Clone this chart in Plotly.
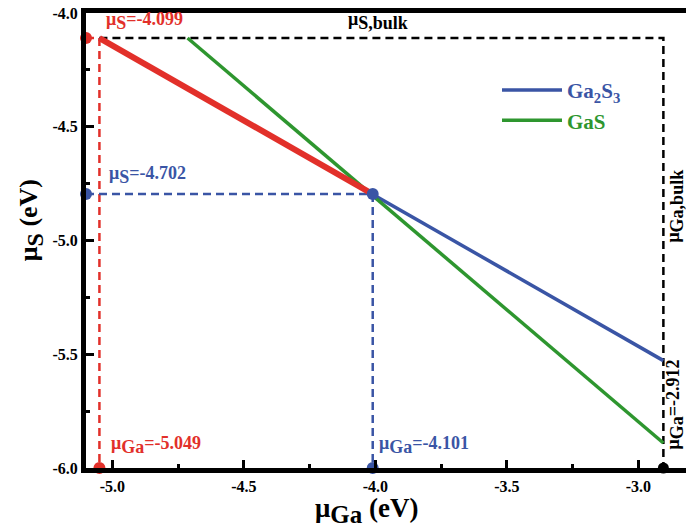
import plotly.graph_objects as go

# ---- data (axis coordinates) ----
ga2s3_x = [-5.049, -2.905]
ga2s3_y = [-4.11, -5.528]
gas_x = [-4.714, -2.905]
gas_y = [-4.11, -5.89]
stable_x = [-5.049, -4.01]
stable_y = [-4.11, -4.796]

x_left, x_right = -5.1, -2.819
y_bottom, y_top = -6.0, -4.0
x_ticks = [-5.0, -4.5, -4.0, -3.5, -3.0]
y_ticks = [-4.0, -4.5, -5.0, -5.5, -6.0]

RED = "#E2302A"
BLUE = "#3A55A5"
GREEN = "#2E962F"
FONT = "Liberation Serif"

fig = go.Figure()

def dashed(xs, ys, color):
    fig.add_trace(go.Scatter(x=xs, y=ys, mode="lines", showlegend=False,
                             line=dict(color=color, width=2.5, dash="8px,5px"),
                             hoverinfo="skip", cliponaxis=False))

# dashed guide lines
dashed([x_left, stable_x[0]], [stable_y[0], stable_y[0]], RED)
dashed([stable_x[0], stable_x[0]], [stable_y[0], y_bottom], RED)
dashed([stable_x[0], ga2s3_x[1], ga2s3_x[1]], [stable_y[0], stable_y[0], y_bottom], "black")
dashed([x_left, stable_x[1]], [stable_y[1], stable_y[1]], BLUE)
dashed([stable_x[1], stable_x[1]], [stable_y[1], y_bottom], BLUE)

# lines
fig.add_trace(go.Scatter(x=ga2s3_x, y=ga2s3_y, mode="lines",
                         name="<span style='color:%s'>Ga<sub>2</sub>S<sub>3</sub></span>" % BLUE,
                         line=dict(color=BLUE, width=3.5)))
fig.add_trace(go.Scatter(x=gas_x, y=gas_y, mode="lines",
                         name="<span style='color:%s'>GaS</span>" % GREEN,
                         line=dict(color=GREEN, width=3.5)))
fig.add_trace(go.Scatter(x=stable_x, y=stable_y, mode="lines", showlegend=False,
                         line=dict(color=RED, width=6)))

# dots
fig.add_trace(go.Scatter(x=[x_left, stable_x[0]], y=[stable_y[0], y_bottom], mode="markers",
                         showlegend=False, cliponaxis=False,
                         marker=dict(color=RED, size=12)))
fig.add_trace(go.Scatter(x=[x_left, stable_x[1], stable_x[1]], y=[stable_y[1], y_bottom, stable_y[1]],
                         mode="markers", showlegend=False, cliponaxis=False,
                         marker=dict(color=BLUE, size=12)))
fig.add_trace(go.Scatter(x=[ga2s3_x[1]], y=[y_bottom], mode="markers",
                         showlegend=False, cliponaxis=False,
                         marker=dict(color="black", size=11)))

def sub(s, px):
    return "<sub><span style='font-size:%dpx'>%s</span></sub>" % (px, s)

def ann(text, x, y, color, angle=0, xanchor="left"):
    fig.add_annotation(x=x, y=y, xref="x", yref="y", text=text, showarrow=False,
                       textangle=angle, xanchor=xanchor, yanchor="middle",
                       font=dict(family=FONT, size=18, color=color, weight="bold"))

ann("μ" + sub("S", 18) + "=-4.099", -5.032, -4.035, RED)
ann("μ" + sub("S,bulk", 18), -4.11, -4.035, "black")
ann("μ" + sub("S", 18) + "=-4.702", -5.022, -4.71, BLUE)
ann("μ" + sub("Ga", 18) + "=-5.049", -5.012, -5.9, RED)
ann("μ" + sub("Ga", 18) + "=-4.101", -3.995, -5.9, BLUE)
ann("μ" + sub("Ga,bulk", 18), -2.86, -4.85, "black", angle=-90, xanchor="center")
ann("μ" + sub("Ga", 18) + "=-2.912", -2.86, -5.72, "black", angle=-90, xanchor="center")

# axis titles as annotations (positioned like the reference)
fig.add_annotation(x=0.468, y=-0.094, xref="paper", yref="paper", showarrow=False,
                   text="μ" + sub("Ga", 25) + " (eV)", xanchor="center", yanchor="middle",
                   borderpad=0,
                   font=dict(family=FONT, size=27, color="black", weight="bold"))
fig.add_annotation(x=-0.093, y=0.545, xref="paper", yref="paper", showarrow=False,
                   text="μ" + sub("S", 24) + " (eV)", textangle=-90,
                   xanchor="center", yanchor="middle", borderpad=0,
                   font=dict(family=FONT, size=26, color="black", weight="bold"))

axis_common = dict(showgrid=False, zeroline=False, showline=True, linecolor="black",
                   linewidth=5, ticks="inside", tickwidth=3, ticklen=8, tickcolor="black",
                   tickfont=dict(family=FONT, size=16, color="black", weight="bold"))

fig.update_xaxes(range=[x_left, x_right], tickvals=x_ticks, ticktext=["%.1f" % v for v in x_ticks],
                 mirror=True,
                 minor=dict(tickvals=[-4.75, -4.25, -3.75, -3.25], ticks="inside", ticklen=4,
                            tickwidth=3, tickcolor="black"),
                 **axis_common)
fig.update_yaxes(range=[y_bottom, y_top], tickvals=y_ticks, ticktext=["%.1f" % v for v in y_ticks],
                 mirror=False,
                 minor=dict(tickvals=[-4.25, -4.75, -5.25, -5.75], ticks="inside", ticklen=4,
                            tickwidth=3, tickcolor="black"),
                 **axis_common)

fig.update_layout(
    width=686, height=531,
    margin=dict(l=86, r=0, t=13, b=63),
    plot_bgcolor="white", paper_bgcolor="white",
    legend=dict(x=0.685, y=0.875, xanchor="left", yanchor="top",
                bgcolor="rgba(0,0,0,0)", itemwidth=60,
                font=dict(family=FONT, size=21, weight="bold"), tracegroupgap=4),
)

fig.write_html("out.html")
